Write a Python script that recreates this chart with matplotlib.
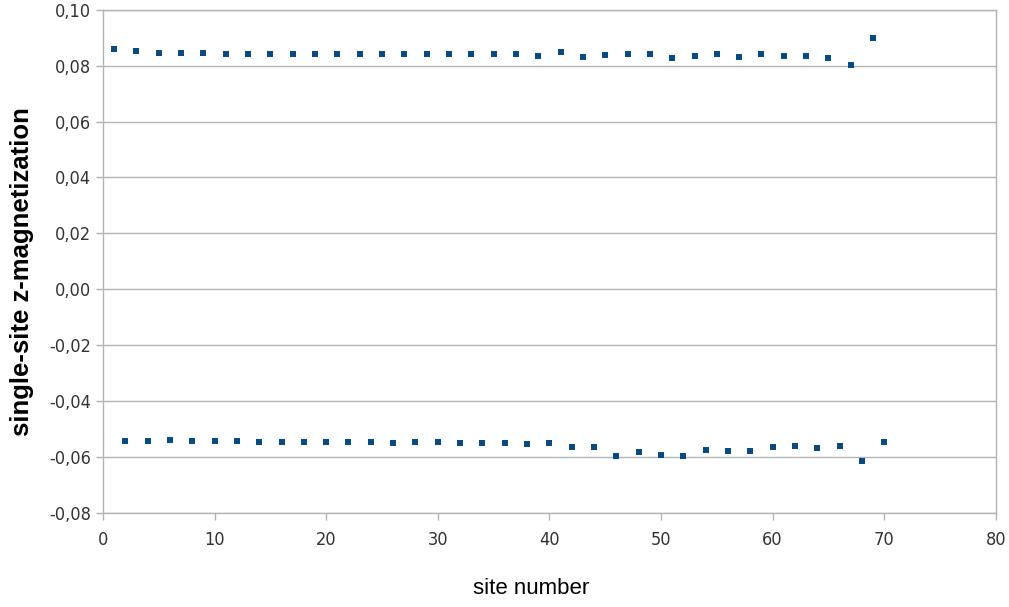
import matplotlib.pyplot as plt
from matplotlib.ticker import FuncFormatter

# odd sites (positive magnetization) and even sites (negative)
odd_sites = list(range(1, 70, 2))
odd_mz = [0.0861, 0.0852, 0.0846, 0.0845, 0.0844, 0.0843, 0.0843, 0.0842, 0.0842,
          0.0842, 0.0841, 0.0841, 0.0841, 0.0840, 0.0840, 0.0840, 0.0840, 0.0840,
          0.0843, 0.0835, 0.0849, 0.0832, 0.0838, 0.0841, 0.0841, 0.0829, 0.0834,
          0.0842, 0.0831, 0.0842, 0.0836, 0.0836, 0.0829, 0.0803, 0.0900]

even_sites = list(range(2, 71, 2))
even_mz = [-0.0543, -0.0541, -0.0539, -0.0541, -0.0543, -0.0543, -0.0545, -0.0547,
           -0.0545, -0.0547, -0.0548, -0.0548, -0.0549, -0.0548, -0.0548, -0.0550,
           -0.0551, -0.0550, -0.0554, -0.0550, -0.0566, -0.0565, -0.0597, -0.0581,
           -0.0592, -0.0596, -0.0575, -0.0580, -0.0577, -0.0565, -0.0562, -0.0568,
           -0.0560, -0.0614, -0.0547]

sites = odd_sites + even_sites
mz = odd_mz + even_mz

y_ticks = [-0.08, -0.06, -0.04, -0.02, 0.0, 0.02, 0.04, 0.06, 0.08, 0.10]
x_ticks = [0, 10, 20, 30, 40, 50, 60, 70, 80]

fig = plt.figure(figsize=(10.09, 6.07), dpi=100)
ax = fig.add_axes([0.102, 0.155, 0.885, 0.829])

ax.plot(sites, mz, linestyle='none', marker='s', markersize=4.3,
        color='#0b4a7e', markeredgewidth=0)

ax.set_xlim(0, 80)
ax.set_ylim(-0.08, 0.10)
ax.set_xticks(x_ticks)
ax.set_yticks(y_ticks)
ax.yaxis.set_major_formatter(FuncFormatter(lambda v, p: f'{v:.2f}'.replace('.', ',')))
ax.xaxis.set_major_formatter(FuncFormatter(lambda v, p: f'{v:.0f}'))

ax.grid(axis='y', color='#b3b3b3', linewidth=1)
ax.set_axisbelow(True)
for s in ax.spines.values():
    s.set_color('#b3b3b3')
    s.set_linewidth(1)

ax.tick_params(direction='out', length=5, color='#b3b3b3', width=1)
ax.tick_params(axis='x', pad=8)
for lbl in ax.get_xticklabels() + ax.get_yticklabels():
    lbl.set_fontfamily('DejaVu Sans')
    lbl.set_fontstretch('condensed')
    lbl.set_fontsize(13)
    lbl.set_color('#333333')

ax.set_xlabel('site number', fontfamily='Liberation Sans', fontsize=16)
ax.xaxis.set_label_coords(0.48, -0.13)
ax.set_ylabel('single-site z-magnetization', fontfamily='Liberation Sans',
              fontsize=18.5, fontweight='bold')
ax.yaxis.set_label_coords(-0.091, 0.479)
ax.yaxis.label.set_verticalalignment('center')

fig.savefig('out.png', dpi=100)
